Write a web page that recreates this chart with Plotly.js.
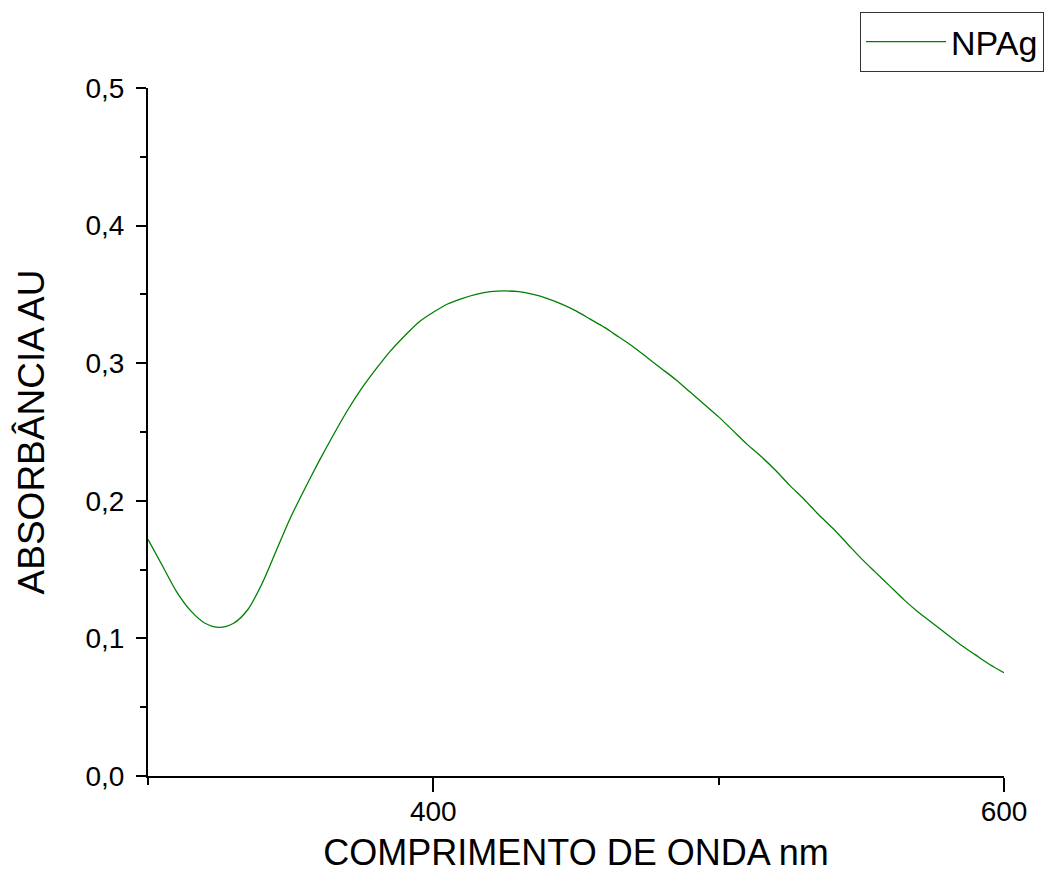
<!DOCTYPE html>
<html>
<head>
<meta charset="utf-8">
<script src="https://cdn.plot.ly/plotly-3.0.1.min.js"></script>
<style>
html,body{margin:0;padding:0;background:#fff;}
#chart{width:1048px;height:881px;}
</style>
</head>
<body>
<div id="chart"></div>
<script>
const wavelength = [300,305,310,315,320,325,330,335,340,345,350,355,360,365,370,375,380,385,390,395,400,405,410,415,420,425,430,435,440,445,450,455,460,465,470,475,480,485,490,495,500,505,510,515,520,525,530,535,540,545,550,555,560,565,570,575,580,585,590,595,600];
const absorbance = [0.172,0.153,0.134,0.120,0.111,0.108,0.111,0.121,0.140,0.164,0.188,0.209,0.229,0.248,0.266,0.282,0.296,0.309,0.320,0.330,0.337,0.343,0.347,0.350,0.352,0.3525,0.352,0.350,0.347,0.343,0.338,0.332,0.326,0.319,0.312,0.304,0.296,0.288,0.279,0.270,0.261,0.251,0.241,0.232,0.222,0.211,0.201,0.190,0.180,0.169,0.158,0.148,0.138,0.128,0.119,0.111,0.103,0.095,0.088,0.081,0.075];
const seriesName = 'NPAg';
const xTitle = 'COMPRIMENTO DE ONDA nm';
const yTitle = 'ABSORBÂNCIA AU';

const font = 'Liberation Sans, Arial, sans-serif';

const trace = {
  x: wavelength, y: absorbance, name: seriesName,
  type: 'scatter', mode: 'lines',
  line: {color: '#008000', width: 1.3, shape: 'spline', smoothing: 0.8}
};

const layout = {
  width: 1048, height: 881,
  margin: {l: 148, r: 44, t: 88, b: 105, autoexpand: false},
  paper_bgcolor: '#fff', plot_bgcolor: '#fff',
  separators: ',.',
  font: {family: font, color: '#000'},
  showlegend: true,
  legend: {
    x: (1044 - 148) / 856, xanchor: 'right', y: (776 - 12) / 688, yanchor: 'top',
    bordercolor: '#333', borderwidth: 1, bgcolor: '#fff',
    font: {family: font, size: 34, color: '#000'},
    itemwidth: 80
  },
  xaxis: {
    range: [300, 600], tick0: 0, dtick: 200,
    showgrid: false, zeroline: false,
    showline: true, linecolor: '#000', linewidth: 2,
    ticks: 'outside', ticklen: 14, tickwidth: 2, tickcolor: '#000',
    minor: {dtick: 100, tick0: 0, ticks: 'outside', ticklen: 7, tickwidth: 2, tickcolor: '#000', showgrid: false},
    tickfont: {family: font, size: 28, color: '#000'},
    ticklabelstandoff: -5,
    title: {text: xTitle, font: {family: font, size: 36, color: '#000'}, standoff: 14}
  },
  yaxis: {
    range: [0, 0.5], tick0: 0, dtick: 0.1, tickformat: '.1f',
    showgrid: false, zeroline: false,
    showline: true, linecolor: '#000', linewidth: 2,
    ticks: 'outside', ticklen: 10, tickwidth: 2, tickcolor: '#000',
    minor: {dtick: 0.05, tick0: 0, ticks: 'outside', ticklen: 6, tickwidth: 2, tickcolor: '#000', showgrid: false},
    tickfont: {family: font, size: 28, color: '#000'},
    ticklabelstandoff: 6,
    title: {text: yTitle, font: {family: font, size: 37, color: '#000'}, standoff: 30}
  }
};

Plotly.newPlot('chart', [trace], layout, {displayModeBar: false, staticPlot: true});
</script>
</body>
</html>
